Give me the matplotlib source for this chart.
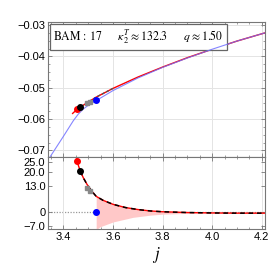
import numpy as np
import matplotlib
matplotlib.use("Agg")
import matplotlib.pyplot as plt
from matplotlib.ticker import MultipleLocator, FixedLocator

plt.rcParams['font.family'] = ['Liberation Sans', 'DejaVu Sans']
plt.rcParams['mathtext.fontset'] = 'stix'
plt.rcParams['axes.unicode_minus'] = True

# top panel: binding energy vs j
j_red = [3.437, 3.455, 3.468, 3.495, 3.532, 3.6, 3.7, 3.8, 3.9, 4.0, 4.1, 4.212]
e_red = [-0.0582, -0.0569, -0.0562, -0.0548, -0.0530, -0.0502, -0.0466, -0.0434, -0.0404, -0.0377, -0.0351, -0.0325]
j_blue = [3.345, 3.40, 3.44, 3.46, 3.48, 3.50, 3.532, 3.6, 3.7, 3.8, 3.9, 4.0, 4.1, 4.212]
e_blue = [-0.0722, -0.0655, -0.0605, -0.0584, -0.0568, -0.0556, -0.0541, -0.0509, -0.0469, -0.0435, -0.0405, -0.0377, -0.0351, -0.0325]

# marker points (red, black, grey, grey, blue)
j_pts = [3.455, 3.468, 3.494, 3.508, 3.532]
e_pts = [-0.0569, -0.0562, -0.0550, -0.0546, -0.0539]
f_pts = [25.6, 20.6, 12.4, 10.8, 0.0]
pt_cols = ['red', 'black', 'gray', 'gray', 'blue']

# bottom panel: curve and band
j_bot = [3.452, 3.46, 3.468, 3.48, 3.494, 3.51, 3.532, 3.56, 3.6, 3.65, 3.7, 3.75, 3.8, 3.9, 4.0, 4.1, 4.21]
f_bot = [26.5, 23.5, 20.6, 17.3, 14.2, 11.2, 8.0, 6.0, 4.0, 2.4, 1.4, 0.7, 0.3, -0.1, -0.3, -0.4, -0.4]
j_band = [3.532, 3.548, 3.6, 3.68, 3.75, 3.8, 3.9, 4.0, 4.21]
band_lo = [-8.6, -7.2, -4.8, -2.5, -1.4, -0.9, -0.5, -0.4, -0.4]

label_txt = r"$\mathrm{BAM}\,:\,17\qquad\kappa_2^T\approx132.3\qquad q\approx1.50$"

fig = plt.figure(figsize=(2.70, 2.74), dpi=100)
ax1 = fig.add_axes([0.178, 0.427, 0.803, 0.493])
ax2 = fig.add_axes([0.178, 0.164, 0.803, 0.263], sharex=ax1)

for ax in (ax1, ax2):
    for s in ax.spines.values():
        s.set_color('#777777')
        s.set_linewidth(0.8)
    ax.tick_params(direction='in', length=3, width=0.6, color='#777777', labelsize=8, pad=2,
                   top=True, right=True)
    ax.tick_params(which='minor', direction='in', length=1.5, width=0.5, color='#777777', top=True, right=True)
    ax.xaxis.set_major_locator(MultipleLocator(0.2))
    ax.xaxis.set_minor_locator(MultipleLocator(0.05))

# top
ax1.grid(True, color='#e4e4e4', lw=0.7)
ax1.plot(j_red, e_red, color='red', lw=1.0, zorder=3)
ax1.plot(j_blue, e_blue, color='#7070ff', lw=0.8, alpha=0.85, zorder=4)
ax1.plot(j_red[1:6], e_red[1:6], color='#555555', lw=1.0, ls=(0, (2, 1.5)), zorder=4)
for j, e, c in zip(j_pts, e_pts, pt_cols):
    if c == 'gray':
        ax1.plot(j, e, 's', color='#888888', ms=3.0, zorder=5)
    else:
        ax1.plot(j, e, 'o', color=c, ms=4.0, zorder=5)
ax1.set_xlim(3.338, 4.212)
ax1.set_ylim(-0.0721, -0.0290)
ax1.yaxis.set_major_locator(MultipleLocator(0.01))
ax1.yaxis.set_minor_locator(MultipleLocator(0.0025))
ax1.yaxis.set_major_formatter(plt.FuncFormatter(lambda v, p: ("%.2f" % v).replace('-', '\u2212')))
plt.setp(ax1.get_xticklabels(), visible=False)
ax1.text(0.025, 0.955, label_txt, transform=ax1.transAxes, fontsize=8.5, va='top', ha='left',
         bbox=dict(boxstyle='square,pad=0.3', fc='white', ec='#666666', lw=0.9))

# bottom
ax2.grid(True, axis='x', color='#e4e4e4', lw=0.7)
ax2.axhline(0, color='#999999', lw=0.9, ls=(0, (1, 1.2)), zorder=1)
ax2.fill_between(j_band, band_lo, np.interp(j_band, j_bot, f_bot), color='#ffc8c8', lw=0, zorder=2)
ax2.plot(j_bot, f_bot, color='red', lw=1.0, zorder=3)
ax2.plot(j_bot[2:], f_bot[2:], color='black', lw=1.1, ls=(0, (3, 2.5)), zorder=4)
for j, f, c in zip(j_pts, f_pts, pt_cols):
    if c == 'gray':
        ax2.plot(j, f, 's', color='#888888', ms=3.0, zorder=5)
    else:
        ax2.plot(j, f, 'o', color=c, ms=4.0, zorder=5)
ax2.set_ylim(-8.35, 27.65)
ax2.yaxis.set_major_locator(FixedLocator([-7, 0, 13, 20, 25]))
ax2.yaxis.set_minor_locator(FixedLocator([]))
ax2.set_yticklabels(['\u22127.0', '0', '13.0', '20.0', '25.0'])
ax2.set_xticks([3.4, 3.6, 3.8, 4.0, 4.2])
ax2.set_xticklabels(['3.4', '3.6', '3.8', '4.0', '4.2'])
ax2.set_xlim(3.338, 4.212)
ax2.set_xlabel(r"$j$", fontsize=12, labelpad=2)

fig.savefig("out.png", dpi=100)
